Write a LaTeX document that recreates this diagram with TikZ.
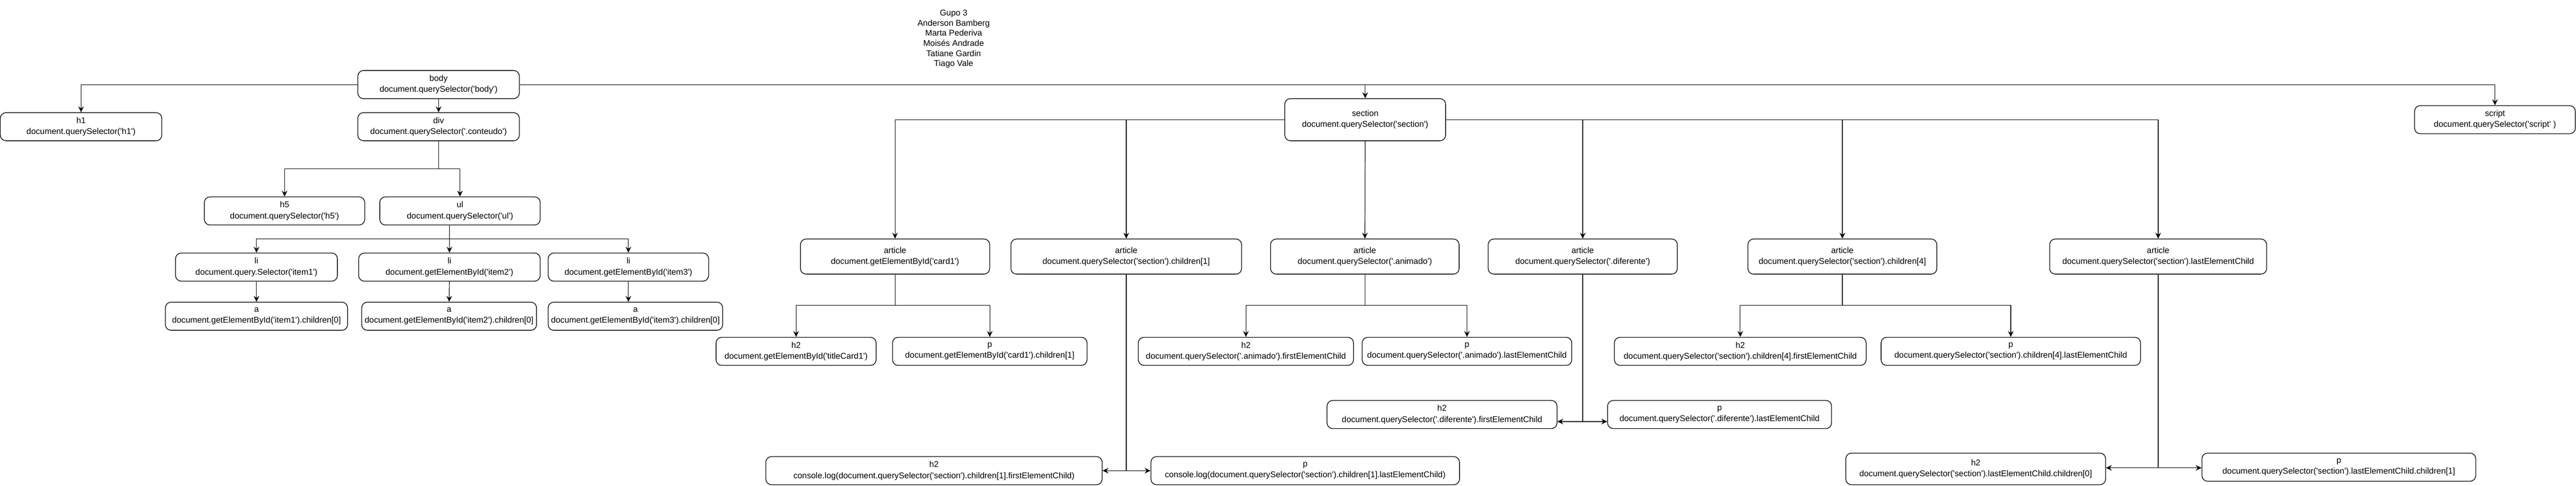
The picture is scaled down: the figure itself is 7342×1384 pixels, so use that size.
\documentclass[tikz,border=0pt]{standalone}
\usepackage{fontspec}
\setmainfont{Liberation Sans}[Ligatures=TeXOff]
\usetikzlibrary{arrows.meta}

\begin{document}
\begin{tikzpicture}[x=0.01cm, y=-0.01cm,
    every node/.append style={font=\fontsize{6.8}{8.8}\selectfont, align=center},
    tag/.style={draw, line width=0.55pt, rounded corners=0.16cm, inner sep=0pt, minimum height=0.8cm},
    arr/.style={-{Stealth[length=1.7mm,width=1.6mm,inset=0.6mm]}, line width=0.5pt},
    link/.style={line width=0.5pt}]
    \useasboundingbox (0,0) rectangle (7342,1384);

    \node[font=\fontsize{6.8}{8.2}\selectfont] (grupo) at (2718,111)
        {Gupo 3\\Anderson Bamberg\\Marta Pederiva\\Moisés Andrade\\Tatiane Gardin\\Tiago Vale};

    % body and its direct children
    \node[tag, minimum width=4.6cm] (body) at (1250,241) {body\\document.querySelector('body')};
    \node[tag, minimum width=4.6cm] (h1) at (231,361) {h1\\document.querySelector('h1')};
    \node[tag, minimum width=4.6cm] (div) at (1250,361) {div\\document.querySelector('.conteudo')};
    \node[tag, minimum width=4.58cm, minimum height=1.2cm] (section) at (3891,341) {section\\document.querySelector('section')};
    \node[tag, minimum width=4.58cm] (script) at (7111,341) {script\\document.querySelector('script' )};

    % div
    \node[tag, minimum width=4.57cm] (h5) at (811,601) {h5\\document.querySelector('h5')};
    \node[tag, minimum width=4.57cm] (ul) at (1311,601) {ul\\document.querySelector('ul')};
    \node[tag, minimum width=4.61cm] (li1) at (731,761) {li\\document.query.Selector('item1')};
    \node[tag, minimum width=5.17cm] (li2) at (1281,761) {li\\document.getElementById('item2')};
    \node[tag, minimum width=4.57cm] (li3) at (1791,761) {li\\document.getElementById('item3')};
    \node[tag, minimum width=5.19cm] (a1) at (731,901) {a\\document.getElementById('item1').children[0]};
    \node[tag, minimum width=4.98cm] (a2) at (1280,901) {a\\document.getElementById('item2').children[0]};
    \node[tag, minimum width=4.97cm] (a3) at (1811,901) {a\\document.getElementById('item3').children[0]};

    % section
    \node[tag, minimum width=5.39cm, minimum height=1cm] (art1) at (2551,731) {article\\document.getElementById('card1')};
    \node[tag, minimum width=6.57cm, minimum height=1cm] (art2) at (3210,731) {article\\document.querySelector('section').children[1]};
    \node[tag, minimum width=5.37cm, minimum height=1cm] (art3) at (3890,731) {article\\document.querySelector('.animado')};
    \node[tag, minimum width=5.39cm, minimum height=1cm] (art4) at (4511,731) {article\\document.querySelector('.diferente')};
    \node[tag, minimum width=5.38cm, minimum height=1cm] (art5) at (5251,731) {article\\document.querySelector('section').children[4]};
    \node[tag, minimum width=6.18cm, minimum height=1cm] (art6) at (6151,731) {article\\document.querySelector('section').lastElementChild};

    \node[tag, minimum width=4.56cm] (h2a) at (2269,1001) {h2\\document.getElementById('titleCard1')};
    \node[tag, minimum width=5.54cm] (pa) at (2821,1001) {p\\document.getElementById('card1').children[1]};
    \node[tag, minimum width=6.13cm] (h2c) at (3551,1001) {h2\\document.querySelector('.animado').firstElementChild};
    \node[tag, minimum width=5.97cm] (pc) at (4181,1001) {p\\document.querySelector('.animado').lastElementChild};
    \node[tag, minimum width=7.17cm] (h2e) at (4960,1001) {h2\\document.querySelector('section').children[4].firstElementChild};
    \node[tag, minimum width=7.39cm] (pe) at (5731,1001) {p\\document.querySelector('section').children[4].lastElementChild};
    \node[tag, minimum width=6.55cm] (h2d) at (4110,1181) {h2\\document.querySelector('.diferente').firstElementChild};
    \node[tag, minimum width=6.38cm] (pd) at (4901,1181) {p\\document.querySelector('.diferente').lastElementChild};
    \node[tag, minimum width=9.58cm] (h2b) at (2662,1341) {h2\\console.log(document.querySelector('section').children[1].firstElementChild)};
    \node[tag, minimum width=8.79cm] (pb) at (3720,1341) {p\\console.log(document.querySelector('section').children[1].lastElementChild)};
    \node[tag, minimum width=7.4cm, minimum height=0.9cm] (h2f) at (5631,1336) {h2\\document.querySelector('section').lastElementChild.children[0]};
    \node[tag, minimum width=7.8cm] (pf) at (6666,1331) {p\\document.querySelector('section').lastElementChild.children[1]};

    % forks
    \coordinate (divfork) at (1250,481);
    \coordinate (ulfork) at (li2.north |- 0,681);
    \coordinate (art1fork) at (art1.south |- 0,870);
    \coordinate (art3fork) at (art3.south |- 0,870);
    \coordinate (art5fork) at (art5.south |- 0,870);
    \coordinate (art2end) at (art2.south |- h2b.east);
    \coordinate (art4end) at (art4.south |- 0,1201);
    \coordinate (art6end) at (art6.south |- 0,1333);

    \draw[arr] (body.west) -| (h1.north);
    \draw[arr] (body) -- (div);
    \draw[arr] (body.east) -| (script.north);
    \draw[arr] (body.east) -| (section.north);

    \draw[link] (div) -- (divfork);
    \draw[arr] (divfork) -| (h5.north);
    \draw[arr] (divfork) -| (ul.north);
    \draw[arr] (ul.south -| li2.north) -- (li2.north);
    \draw[arr] (ulfork) -| (li1.north);
    \draw[arr] (ulfork) -| (li3.north);
    \draw[arr] (li1) -- (a1);
    \draw[arr] (li2) -- (a2);
    \draw[arr] (li3.south) -- (li3.south |- a3.north);

    \draw[arr] (section.west) -| (art1.north);
    \draw[arr] (section.west -| art2.north) -- (art2.north);
    \draw[arr] (section) -- (art3);
    \draw[arr] (section.east) -| (art4.north);
    \draw[arr] (section.east) -| (art5.north);
    \draw[arr] (section.east) -| (art6.north);

    \draw[link] (art1) -- (art1fork);
    \draw[arr] (art1fork) -| (h2a.north);
    \draw[arr] (art1fork) -| (pa.north);
    \draw[link] (art3) -- (art3fork);
    \draw[arr] (art3fork) -| (h2c.north);
    \draw[arr] (art3fork) -| (pc.north);
    \draw[link] (art5) -- (art5fork);
    \draw[arr] (art5fork) -| (h2e.north);
    \draw[arr] (art5fork) -| (pe.north);

    \draw[link] (art2) -- (art2end);
    \draw[arr] (art2end) -- (h2b.east);
    \draw[arr] (art2end) -- (pb.west);
    \draw[link] (art4) -- (art4end);
    \draw[arr] (art4end) -- (art4end -| h2d.east);
    \draw[arr] (art4end) -- (art4end -| pd.west);
    \draw[link] (art6) -- (art6end);
    \draw[arr] (art6end) -- (art6end -| h2f.east);
    \draw[arr] (art6end) -- (art6end -| pf.west);
\end{tikzpicture}
\end{document}
